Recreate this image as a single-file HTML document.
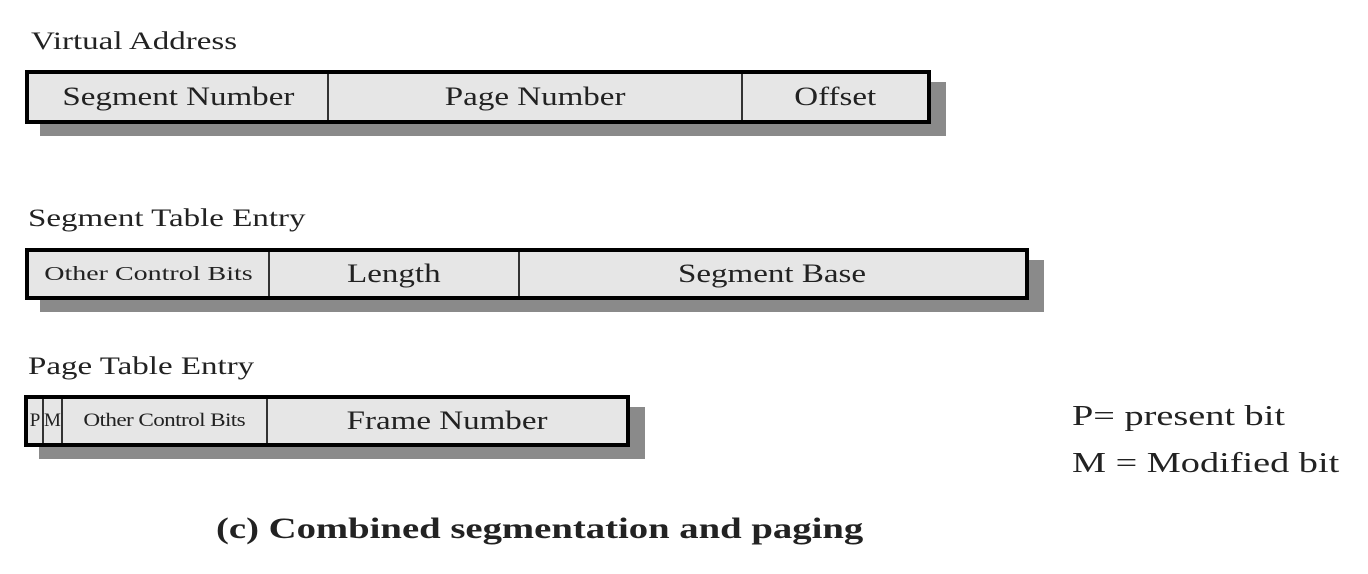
<!DOCTYPE html>
<html><head><meta charset="utf-8"><style>
body{margin:0;width:1368px;height:574px;background:#fff;position:relative;overflow:hidden;font-family:"Liberation Serif",serif;color:#222}
.t{position:absolute;white-space:nowrap;transform:scaleX(1.32);transform-origin:left center}
.box{position:absolute;border:4px solid #000;background:#e6e6e6;box-sizing:border-box;display:flex;box-shadow:15px 12px 0 #8a8a8a}
.c{border-right:2px solid #333;display:flex;align-items:center;justify-content:center;font-size:26px;box-sizing:border-box;overflow:visible;white-space:nowrap}
.c span{display:inline-block;transform:scaleX(1.27)}
.c:last-child{border-right:none}
</style></head><body>
<div class="t" style="left:31px;top:28px;font-size:25px">Virtual Address</div>
<div class="box" style="left:25px;top:70px;width:906px;height:54px">
<div class="c" style="width:300px"><span>Segment Number</span></div>
<div class="c" style="width:414px"><span>Page Number</span></div>
<div class="c" style="flex:1"><span>Offset</span></div>
</div>
<div class="t" style="left:28px;top:205px;font-size:25px">Segment Table Entry</div>
<div class="box" style="left:25px;top:248px;width:1004px;height:52px">
<div class="c" style="width:241px;font-size:20px"><span style="transform:scaleX(1.4)">Other Control Bits</span></div>
<div class="c" style="width:250px"><span>Length</span></div>
<div class="c" style="flex:1"><span>Segment Base</span></div>
</div>
<div class="t" style="left:28px;top:353px;font-size:25px">Page Table Entry</div>
<div class="box" style="left:24px;top:395px;width:606px;height:52px">
<div class="c" style="width:16px;font-size:19px"><span style="transform:none">P</span></div>
<div class="c" style="width:19px;font-size:19px"><span style="transform:none">M</span></div>
<div class="c" style="width:205px;font-size:19px;letter-spacing:-0.5px"><span style="transform:scaleX(1.22)">Other Control Bits</span></div>
<div class="c" style="flex:1"><span>Frame Number</span></div>
</div>
<div class="t" style="left:1072px;top:400px;font-size:29px">P= present bit</div>
<div class="t" style="left:1072px;top:447px;font-size:29px">M = Modified bit</div>
<div class="t" style="left:216px;top:512px;font-size:30px;font-weight:bold;transform:scaleX(1.29)">(c) Combined segmentation and paging</div>
</body></html>
